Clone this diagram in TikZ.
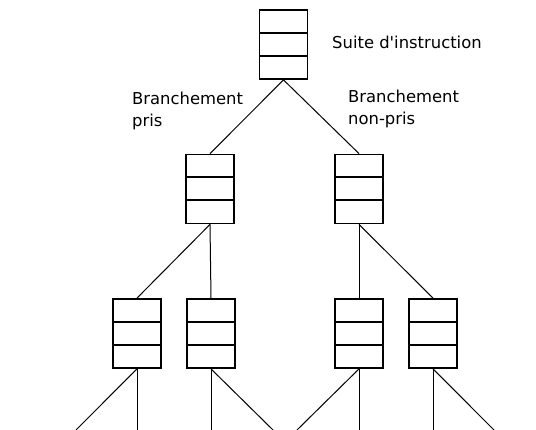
\documentclass[tikz,border=0pt]{standalone}
\usepackage{fontspec}
\setmainfont{DejaVu Sans}

\tikzset{
  pile/.style={draw, line width=1.8pt, minimum width=48pt, minimum height=69pt, inner sep=0pt,
    path picture={
      \draw[line width=2pt] ([yshift=11.5pt]path picture bounding box.west) -- ([yshift=11.5pt]path picture bounding box.east);
      \draw[line width=2pt] ([yshift=-11.5pt]path picture bounding box.west) -- ([yshift=-11.5pt]path picture bounding box.east);
    }},
  branche/.style={line width=1pt},
  legende/.style={font=\fontsize{16.4}{22}\selectfont, inner sep=0pt, align=left},
}

\begin{document}
\begin{tikzpicture}[x=1pt,y=-1pt]
            \useasboundingbox (0,0) rectangle (536,430);

            % les piles d'instructions
            \node[pile] (racine) at (283.5, 44.5) {};

            \node[pile] (pris) at (210, 189) {};
            \node[pile] (nonpris) at (359, 189) {};

            \node[pile] (pa) at (137, 333.5) {};
            \node[pile] (pb) at (211, 333.5) {};
            \node[pile] (pc) at (359, 333.5) {};
            \node[pile] (pd) at (433, 333.5) {};

            % bouts de branches qui sortent de l'image
            \coordinate (fa1) at (76, 430);
            \coordinate (fa2) at (137, 430);
            \coordinate (fb1) at (211, 430);
            \coordinate (fb2) at (273, 430);
            \coordinate (fc1) at (297, 430);
            \coordinate (fc2) at (359, 430);
            \coordinate (fd1) at (433, 430);
            \coordinate (fd2) at (494, 430);

            \draw[branche] (racine.south) -- (pris.north);
            \draw[branche] (racine.south) -- (nonpris.north);

            \draw[branche] (pris.south) -- (pa.north);
            \draw[branche] (pris.south) -- (pb.north);
            \draw[branche] (nonpris.south) -- (pc.north);
            \draw[branche] (nonpris.south) -- (pd.north);

            \draw[branche] (pa.south) -- (fa1);
            \draw[branche] (pa.south) -- (fa2);
            \draw[branche] (pb.south) -- (fb1);
            \draw[branche] (pb.south) -- (fb2);
            \draw[branche] (pc.south) -- (fc1);
            \draw[branche] (pc.south) -- (fc2);
            \draw[branche] (pd.south) -- (fd1);
            \draw[branche] (pd.south) -- (fd2);

            % textes
            \node[legende, anchor=base west] (suite) at (332, 48.3) {Suite d\textquotesingle instruction};
            \node[legende, anchor=north west] (lpris) at (132, 92) {Branchement\\pris};
            \node[legende, anchor=north west] (lnonpris) at (348, 90) {Branchement\\non-pris};
        \end{tikzpicture}
\end{document}
